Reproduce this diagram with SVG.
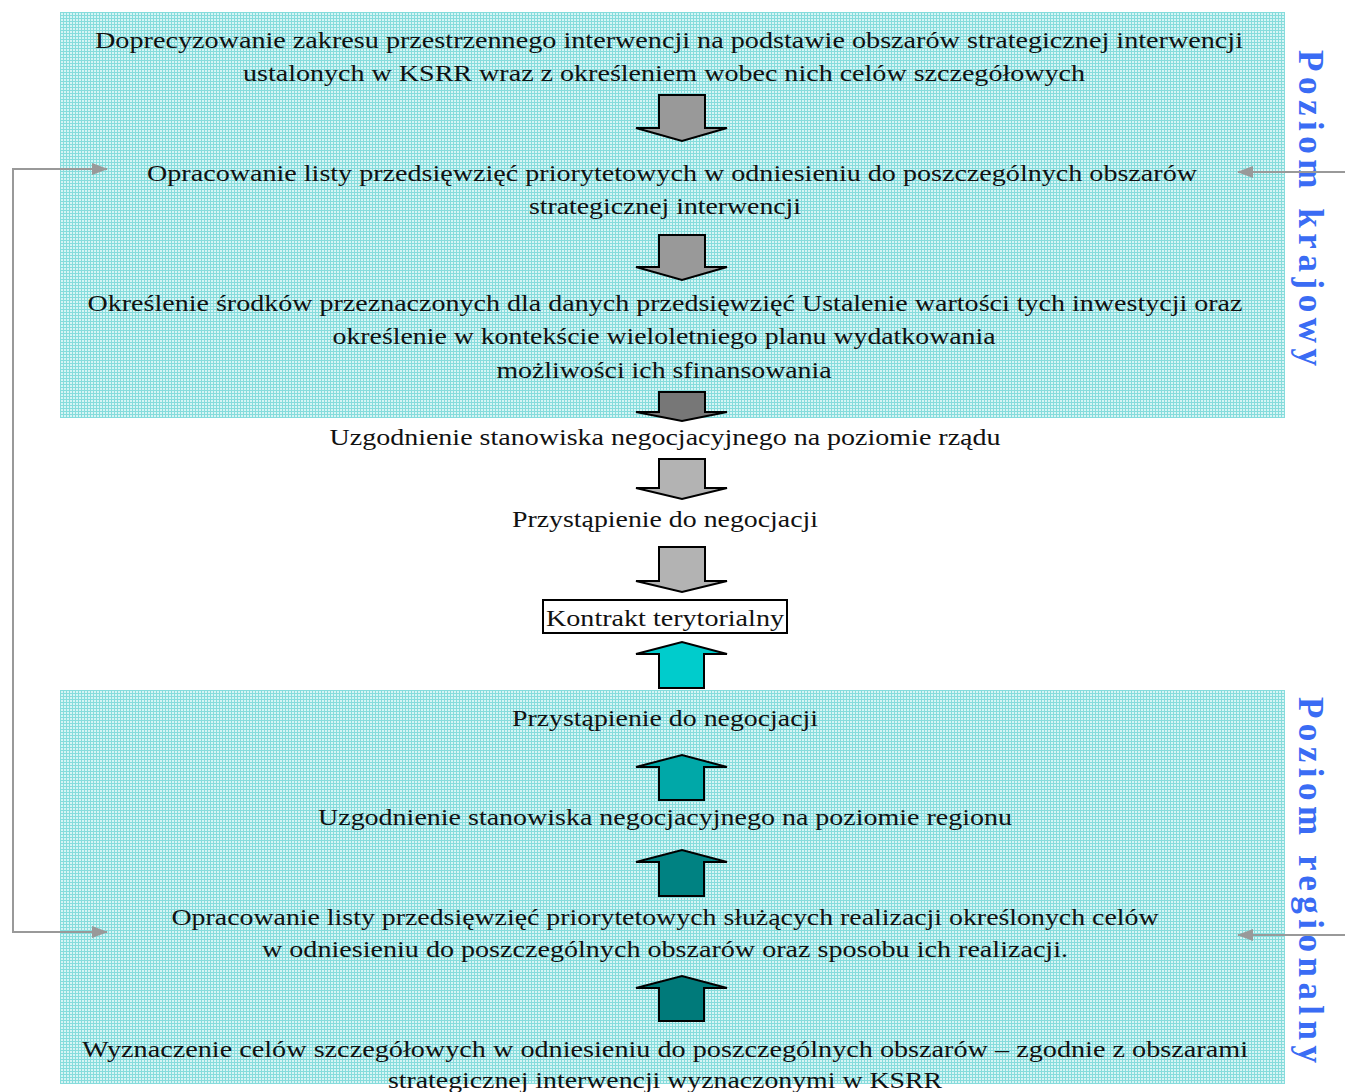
<svg xmlns="http://www.w3.org/2000/svg" width="1345" height="1092" viewBox="0 0 1345 1092">
<defs>
<pattern id="grid" width="3" height="3" patternUnits="userSpaceOnUse">
<rect width="3" height="3" fill="#d6f5f5"/>
<rect width="3" height="1" fill="#86dcdc"/>
<rect width="1" height="3" fill="#86dcdc"/>
</pattern>
<marker id="ah" markerWidth="16" markerHeight="12" refX="15" refY="6" orient="auto-start-reverse" markerUnits="userSpaceOnUse">
<path d="M0,0 L16,6 L0,12 Z" fill="#999999"/>
</marker>
</defs>
<style>
.t{font-family:"Liberation Serif","Times New Roman",serif;font-size:24px;fill:#111;text-anchor:middle}
.v{font-family:"Liberation Serif","Times New Roman",serif;font-size:35px;font-weight:bold;fill:#3a6cf4}
.ar{stroke:#000;stroke-width:2;stroke-linejoin:miter}
.con{fill:none;stroke:#999999;stroke-width:2}
</style>
<rect id="panel-krajowy" x="60" y="12" width="1225" height="406" fill="url(#grid)"/>
<rect id="panel-regionalny" x="60" y="690" width="1225" height="394" fill="url(#grid)"/>

<g id="n1"><text class="t" x="669" y="48" textLength="1148" lengthAdjust="spacingAndGlyphs">Doprecyzowanie zakresu przestrzennego interwencji na podstawie obszarów strategicznej interwencji</text>
<text class="t" x="664" y="81" textLength="842" lengthAdjust="spacingAndGlyphs">ustalonych w KSRR wraz z określeniem wobec nich celów szczegółowych</text></g>
<g id="n2"><text class="t" x="672" y="181" textLength="1050" lengthAdjust="spacingAndGlyphs">Opracowanie listy przedsięwzięć priorytetowych w odniesieniu do poszczególnych obszarów</text>
<text class="t" x="665" y="214" textLength="272" lengthAdjust="spacingAndGlyphs">strategicznej interwencji</text></g>
<g id="n3"><text class="t" x="665" y="311" textLength="1155" lengthAdjust="spacingAndGlyphs">Określenie środków przeznaczonych dla danych przedsięwzięć Ustalenie wartości tych inwestycji oraz</text>
<text class="t" x="664" y="344" textLength="663" lengthAdjust="spacingAndGlyphs">określenie w kontekście wieloletniego planu wydatkowania</text>
<text class="t" x="664" y="378" textLength="335" lengthAdjust="spacingAndGlyphs">możliwości ich sfinansowania</text></g>
<g id="n4"><text class="t" x="665" y="445" textLength="671" lengthAdjust="spacingAndGlyphs">Uzgodnienie stanowiska negocjacyjnego na poziomie rządu</text></g>
<g id="n5"><text class="t" x="665" y="527" textLength="306" lengthAdjust="spacingAndGlyphs">Przystąpienie do negocjacji</text></g>
<g id="n6"><rect x="543" y="600" width="244" height="33" fill="#fff" stroke="#000" stroke-width="2"/>
<text class="t" x="665" y="626" textLength="238" lengthAdjust="spacingAndGlyphs">Kontrakt terytorialny</text></g>
<g id="n7"><text class="t" x="665" y="726" textLength="306" lengthAdjust="spacingAndGlyphs">Przystąpienie do negocjacji</text></g>
<g id="n8"><text class="t" x="665" y="825" textLength="694" lengthAdjust="spacingAndGlyphs">Uzgodnienie stanowiska negocjacyjnego na poziomie regionu</text></g>
<g id="n9"><text class="t" x="665" y="925" textLength="987" lengthAdjust="spacingAndGlyphs">Opracowanie listy przedsięwzięć priorytetowych służących realizacji określonych celów</text>
<text class="t" x="665" y="957" textLength="806" lengthAdjust="spacingAndGlyphs">w odniesieniu do poszczególnych obszarów oraz sposobu ich realizacji.</text></g>
<g id="n10"><text class="t" x="665" y="1057" textLength="1166" lengthAdjust="spacingAndGlyphs">Wyznaczenie celów szczegółowych w odniesieniu do poszczególnych obszarów – zgodnie z obszarami</text>
<text class="t" x="665" y="1088" textLength="554" lengthAdjust="spacingAndGlyphs">strategicznej interwencji wyznaczonymi w KSRR</text></g>

<g id="label-krajowy"><text class="v" transform="translate(1299,50) rotate(90)" textLength="316" lengthAdjust="spacing">Poziom krajowy</text></g>
<g id="label-regionalny"><text class="v" transform="translate(1299,697) rotate(90)" textLength="366" lengthAdjust="spacing">Poziom regionalny</text></g>

<g id="arrows">
<polygon class="ar" fill="#999999" points="659,95 705,95 705,128 727,128 682,141 636,128 659,128"/>
<polygon class="ar" fill="#999999" points="659,235 705,235 705,267 727,267 682,280 636,267 659,267"/>
<polygon class="ar" fill="#777777" points="659,392 705,392 705,412 727,412 682,421 636,412 659,412"/>
<polygon class="ar" fill="#b3b3b3" points="659,459 705,459 705,488 727,488 682,499 636,488 659,488"/>
<polygon class="ar" fill="#b3b3b3" points="659,547 705,547 705,581 727,581 682,592 636,581 659,581"/>
<polygon class="ar" fill="#00cccc" points="659,688 704,688 704,654 727,654 682,642 636,654 659,654"/>
<polygon class="ar" fill="#00a8a8" points="659,800 704,800 704,767 727,767 682,755 636,767 659,767"/>
<polygon class="ar" fill="#008282" points="659,896 704,896 704,862 727,862 682,850 636,862 659,862"/>
<polygon class="ar" fill="#007a7a" points="659,1021 704,1021 704,988 727,988 682,976 636,988 659,988"/>
</g>

<g id="connectors">
<polyline class="con" points="107,932 13,932 13,169 107,169" marker-start="url(#ah)" marker-end="url(#ah)"/>
<line class="con" x1="1345" y1="172" x2="1238" y2="172" marker-end="url(#ah)"/>
<line class="con" x1="1345" y1="935" x2="1238" y2="935" marker-end="url(#ah)"/>
</g>
</svg>
